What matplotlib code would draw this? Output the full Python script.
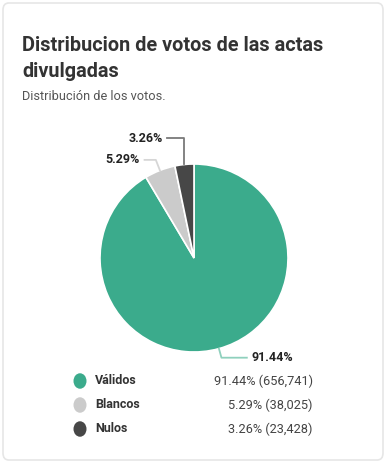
import numpy as np
import matplotlib.pyplot as plt
from matplotlib.patches import FancyBboxPatch

# Data
categories = ["Válidos", "Blancos", "Nulos"]
percentages = [91.44, 5.29, 3.26]
votes = [656741, 38025, 23428]
colors = ["#3bab8c", "#cbcbcb", "#474747"]
line_colors = ["#8fd0bd", "#d6d6d6", "#7a7a7a"]

plt.rcParams["font.family"] = ["Roboto", "DejaVu Sans"]

W, H = 388, 462
fig = plt.figure(figsize=(W / 100, H / 100), dpi=100)
fig.patch.set_facecolor("white")

# card outline
card = FancyBboxPatch((3 / W, 2 / H), 380 / W, 457 / H,
                      boxstyle="round,pad=0,rounding_size=0.015",
                      transform=fig.transFigure, facecolor="none",
                      edgecolor="#e6e6e6", linewidth=1.2, zorder=-5)
fig.patches.append(card)

# title / subtitle
fig.text(22 / W, 1 - 51 / H, "Distribucion de votos de las actas",
         fontsize=14.3, fontweight="bold", color="#333333", va="baseline")
fig.text(22 / W, 1 - 77 / H, "divulgadas",
         fontsize=14.3, fontweight="bold", color="#333333", va="baseline")
fig.text(22 / W, 1 - 100 / H, "Distribución de los votos.",
         fontsize=9.2, color="#555555", va="baseline")

# pie
cx, cy, r = 194, 258, 94
ax = fig.add_axes([(cx - r) / W, (H - cy - r) / H, 2 * r / W, 2 * r / H])
wedges, _ = ax.pie(percentages, colors=colors, startangle=90, counterclock=False,
                   radius=1, wedgeprops=dict(edgecolor="white", linewidth=1.2))
ax.set_xlim(-1, 1)
ax.set_ylim(-1, 1)
ax.set_aspect("equal")
ax.axis("off")

# leader lines: elbow radius, horizontal length per label
elbow_r = [1.1, 1.12, 1.28]
horiz = [0.27, -0.12, -0.18]
for w, p, lc, er, hl in zip(wedges, percentages, line_colors, elbow_r, horiz):
    ang = np.deg2rad((w.theta1 + w.theta2) / 2)
    x0, y0 = np.cos(ang), np.sin(ang)
    ex, ey = er * np.cos(ang), er * np.sin(ang)
    if abs(ex) < 0.2:
        ex = x0
    hx = ex + hl
    ax.plot([x0, ex, hx], [y0, ey, ey], color=lc, lw=1.3, clip_on=False)
    if hl > 0:
        ax.text(hx + 0.05, ey, f"{p:.2f}%", ha="left", va="center",
                fontsize=9, fontweight="bold", color="#222222")
    else:
        ax.text(hx - 0.05, ey, f"{p:.2f}%", ha="right", va="center",
                fontsize=9, fontweight="bold", color="#222222")

# legend rows
for i, (cat, p, v, c) in enumerate(zip(categories, percentages, votes, colors)):
    y = 1 - (381 + 24 * i) / H
    fig.patches.append(plt.Circle((80 / W, y), 6.5 / W, transform=fig.transFigure,
                                  facecolor=c, edgecolor="none"))
    fig.text(95 / W, y, cat, fontsize=9, fontweight="bold", color="#333333",
             va="center")
    fig.text(313 / W, y, f"{p:.2f}% ({v:,})", fontsize=9.2, color="#444444",
             va="center", ha="right")

fig.savefig("out.png", dpi=100)
